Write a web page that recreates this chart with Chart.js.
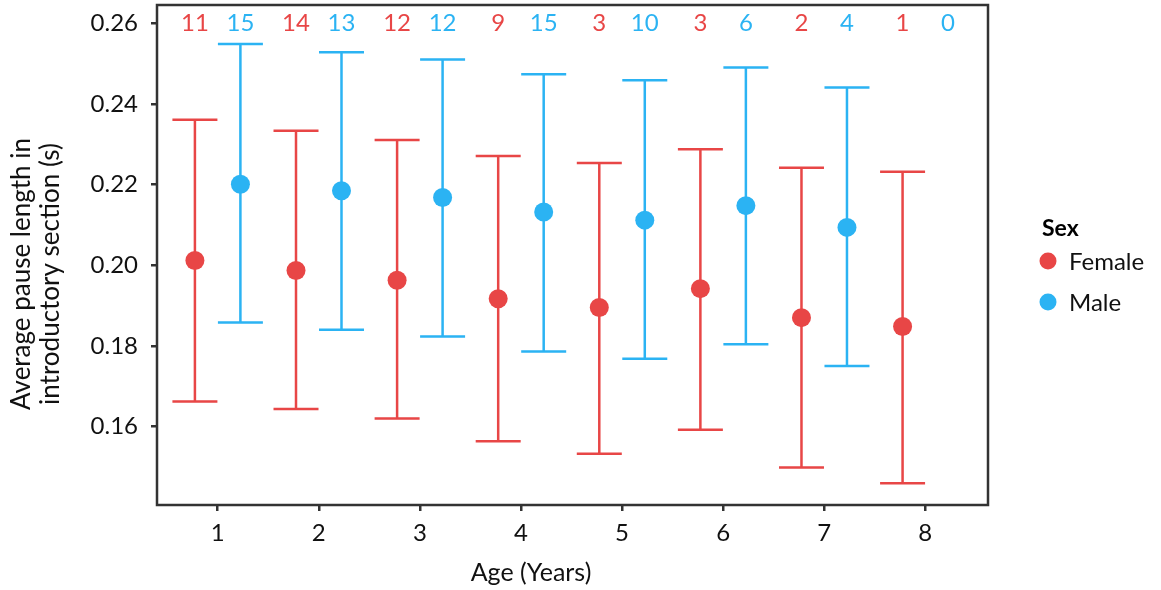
<!DOCTYPE html>
<html lang="en">
<head>
  <meta charset="UTF-8">
  <title>Average pause length by age and sex</title>
  <script src="https://cdn.jsdelivr.net/npm/chart.js"></script>
  <style>
    body { margin: 0; background: #fff; }
  </style>
</head>
<body>
  <canvas id="pauseChart" width="1161" height="590"></canvas>

  <script>
    // values
    const ages = [1, 2, 3, 4, 5, 6, 7, 8];
    const femaleMean  = [0.2012, 0.1987, 0.1963, 0.1917, 0.1895, 0.1942, 0.1870, 0.1848];
    const femaleLower = [0.1662, 0.1643, 0.1620, 0.1563, 0.1532, 0.1592, 0.1498, 0.1459];
    const femaleUpper = [0.2361, 0.2334, 0.2311, 0.2271, 0.2254, 0.2288, 0.2242, 0.2232];
    const femaleN     = [11, 14, 12, 9, 3, 3, 2, 1];
    const maleMean  = [0.2201, 0.2185, 0.2168, 0.2132, 0.2112, 0.2148, 0.2094, null];
    const maleLower = [0.1858, 0.1840, 0.1823, 0.1786, 0.1768, 0.1804, 0.1750, null];
    const maleUpper = [0.2549, 0.2529, 0.2511, 0.2474, 0.2459, 0.2491, 0.2441, null];
    const maleN     = [15, 13, 12, 15, 10, 6, 4, 0];
    const yTicks = [0.16, 0.18, 0.20, 0.22, 0.24, 0.26];
    const xTitle = 'Age (Years)';
    const yTitle = ['Average pause length in', 'introductory section (s)'];

    const red = '#E84646';
    const blue = '#2BB3F3';
    const dodge = 0.225;
    const fontFamily = 'Lato, "Open Sans", sans-serif';

    const femalePts = ages.map((a, i) => ({ x: a - dodge, y: femaleMean[i], lo: femaleLower[i], hi: femaleUpper[i] }));
    const malePts = ages.map((a, i) => ({ x: a + dodge, y: maleMean[i], lo: maleLower[i], hi: maleUpper[i] }))
      .filter(p => p.y !== null);

    // error bars, top counts, frame, axis titles and legend
    const extras = {
      id: 'extras',
      beforeDatasetsDraw(chart) {
        const ctx = chart.ctx;
        const xs = chart.scales.x, ys = chart.scales.y;
        ctx.save();
        ctx.lineWidth = 2.5;
        chart.data.datasets.forEach(ds => {
          ctx.strokeStyle = ds.borderColor;
          ds.data.forEach(p => {
            const px = xs.getPixelForValue(p.x);
            const top = ys.getPixelForValue(p.hi);
            const bot = ys.getPixelForValue(p.lo);
            ctx.beginPath();
            ctx.moveTo(px, top); ctx.lineTo(px, bot);
            ctx.moveTo(px - 22.5, top); ctx.lineTo(px + 22.5, top);
            ctx.moveTo(px - 22.5, bot); ctx.lineTo(px + 22.5, bot);
            ctx.stroke();
          });
        });
        ctx.restore();
      },
      afterDraw(chart) {
        const ctx = chart.ctx;
        const xs = chart.scales.x, ys = chart.scales.y;
        const area = chart.chartArea;
        ctx.save();
        // counts
        ctx.font = '24px ' + fontFamily;
        ctx.textAlign = 'center';
        ctx.textBaseline = 'middle';
        const yc = ys.getPixelForValue(0.26);
        ages.forEach((a, i) => {
          ctx.fillStyle = red;
          ctx.fillText(String(femaleN[i]), xs.getPixelForValue(a - dodge), yc);
          ctx.fillStyle = blue;
          ctx.fillText(String(maleN[i]), xs.getPixelForValue(a + dodge), yc);
        });
        // frame
        ctx.strokeStyle = '#333';
        ctx.lineWidth = 2.5;
        ctx.strokeRect(area.left, area.top, area.right - area.left, area.bottom - area.top);
        // axis titles, both sit a little off the plot centre in the original
        ctx.fillStyle = '#111';
        ctx.font = '25px ' + fontFamily;
        ctx.fillText(xTitle, 531, 573);
        ctx.save();
        ctx.translate(0, 274);
        ctx.rotate(-Math.PI / 2);
        ctx.font = '26px ' + fontFamily;
        ctx.fillText(yTitle[0], 0, 22);
        ctx.fillText(yTitle[1], 0, 51);
        ctx.restore();
        // legend
        ctx.textAlign = 'left';
        ctx.fillStyle = '#000';
        ctx.font = 'bold 23px ' + fontFamily;
        ctx.fillText('Sex', 1042, 229);
        ctx.font = '24px ' + fontFamily;
        [['Female', red, 261], ['Male', blue, 302]].forEach(([label, col, y]) => {
          ctx.fillStyle = col;
          ctx.beginPath();
          ctx.arc(1048, y, 8.5, 0, Math.PI * 2);
          ctx.fill();
          ctx.fillStyle = '#111';
          ctx.fillText(label, 1069, y + 1);
        });
        ctx.restore();
      }
    };

    const ctx = document.getElementById('pauseChart').getContext('2d');
    new Chart(ctx, {
      type: 'scatter',
      data: {
        datasets: [
          { label: 'Female', data: femalePts, backgroundColor: red, borderColor: red, pointRadius: 9.5, pointHoverRadius: 9.5, borderWidth: 0 },
          { label: 'Male', data: malePts, backgroundColor: blue, borderColor: blue, pointRadius: 9.5, pointHoverRadius: 9.5, borderWidth: 0 }
        ]
      },
      options: {
        responsive: false,
        animation: false,
        layout: { autoPadding: false, padding: { left: 0, right: 173, top: 5, bottom: 0 } },
        plugins: {
          legend: { display: false },
          tooltip: { enabled: false }
        },
        scales: {
          x: {
            type: 'linear',
            min: 0.4,
            max: 8.62,
            afterBuildTicks: s => { s.ticks = ages.map(v => ({ value: v })); },
            afterFit: s => { s.height = 85; s.paddingLeft = 0; s.paddingRight = 0; },
            grid: { drawOnChartArea: false, drawTicks: true, tickLength: 6, tickColor: '#333', lineWidth: 2.5 },
            border: { display: false },
            ticks: { color: '#111', font: { family: fontFamily, size: 24 }, padding: 8 }
          },
          y: {
            min: 0.1405,
            max: 0.2646,
            afterBuildTicks: s => { s.ticks = yTicks.map(v => ({ value: v })); },
            afterFit: s => { s.width = 157; s.paddingTop = 0; s.paddingBottom = 0; },
            grid: { drawOnChartArea: false, drawTicks: true, tickLength: 6, tickColor: '#333', lineWidth: 2.5 },
            border: { display: false },
            ticks: { color: '#111', font: { family: fontFamily, size: 24 }, padding: 13, callback: v => v.toFixed(2) }
          }
        }
      },
      plugins: [extras]
    });
  </script>
</body>
</html>
